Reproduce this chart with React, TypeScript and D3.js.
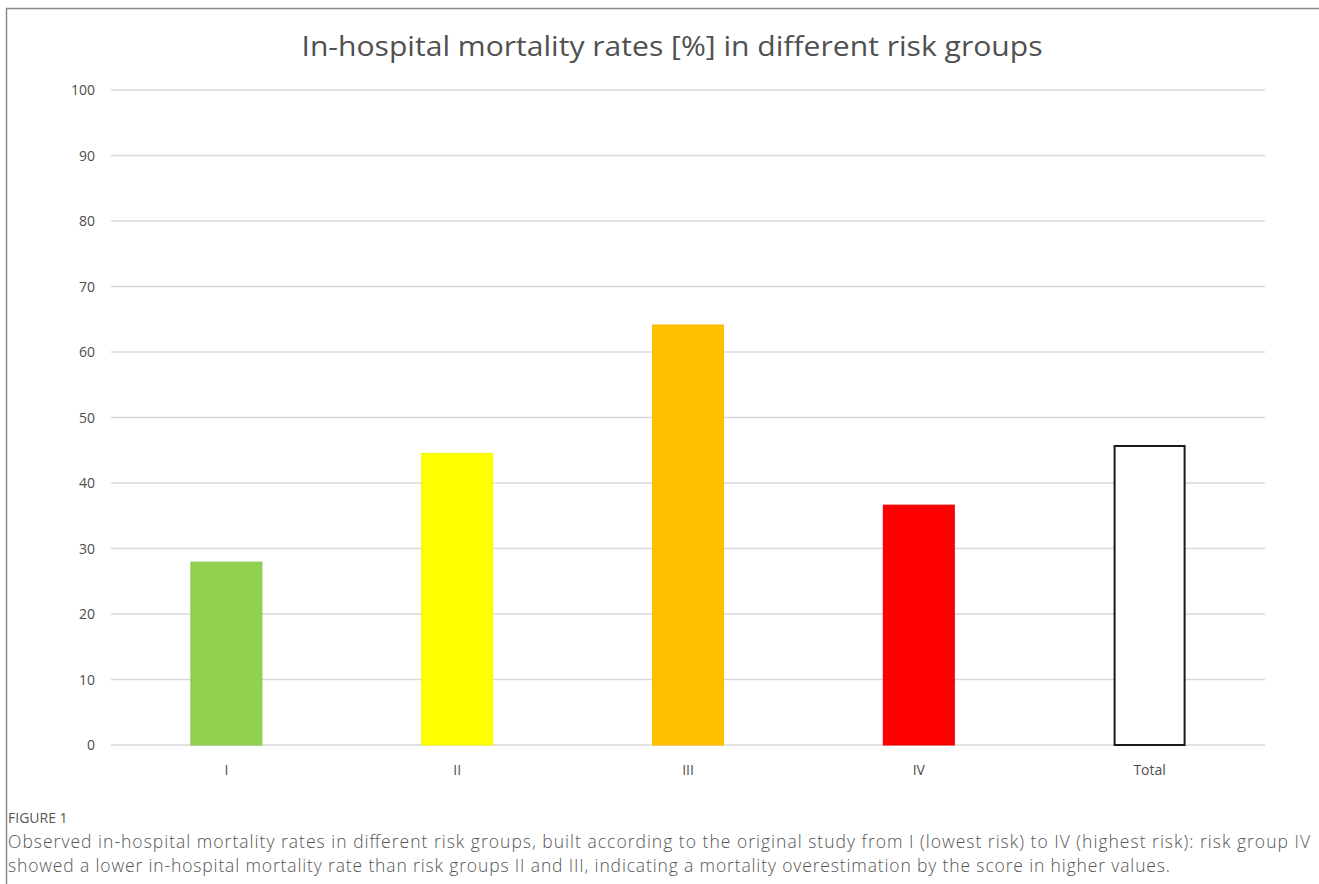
import React from "react";
import * as d3 from "d3";

// Risk groups and observed in-hospital mortality (%)
const categories = ["I", "II", "III", "IV", "Total"];
const mortality = [28, 44.6, 64.2, 36.7, 45.8];
const barFills = ["#92d050", "#ffff00", "#ffc000", "#ff0000", "#ffffff"];
const barStrokes = ["#8cc84c", "#f5f500", "#f7bb00", "#e00000", "#1a1a1a"];
const yTicks = [0, 10, 20, 30, 40, 50, 60, 70, 80, 90, 100];

const title = "In-hospital mortality rates [%] in different risk groups";
const figureLabel = "FIGURE 1";
const captionLines = [
  "Observed in-hospital mortality rates in different risk groups, built according to the original study from I (lowest risk) to IV (highest risk): risk group IV",
  "showed a lower in-hospital mortality rate than risk groups II and III, indicating a mortality overestimation by the score in higher values.",
];

const W = 1319;
const H = 884;
const plot = { left: 111, right: 1265, top: 90, bottom: 745 };
const font = "'Open Sans', 'Noto Sans', sans-serif";

export default function App() {
  const x = d3
    .scaleBand<string>()
    .domain(categories)
    .range([plot.left, plot.right])
    .paddingInner(0.688)
    .paddingOuter(0.344);
  const y = d3.scaleLinear().domain([0, 100]).range([plot.bottom, plot.top]);

  return (
    <svg
      width={W}
      height={H}
      style={{ position: "absolute", left: 0, top: 0, background: "#fff" }}
    >
      {/* frame */}
      <line x1={6} y1={8.5} x2={W} y2={8.5} stroke="#8a8a8a" strokeWidth={1.5} />
      <line x1={6.5} y1={8} x2={6.5} y2={H} stroke="#8a8a8a" strokeWidth={1.5} />

      <text
        x={672}
        y={56}
        textAnchor="middle"
        fontFamily={font}
        fontSize={27}
        fill="#505050"
        textLength={741}
        lengthAdjust="spacingAndGlyphs"
      >
        {title}
      </text>

      {/* gridlines and y labels */}
      {yTicks.map((t) => (
        <g key={t}>
          <line
            x1={plot.left}
            x2={plot.right}
            y1={y(t)}
            y2={y(t)}
            stroke="#d9d9d9"
            strokeWidth={1.5}
          />
          <text
            x={95}
            y={y(t) + 5}
            textAnchor="end"
            fontFamily={font}
            fontSize={14}
            fill="#4d4d4d"
          >
            {t}
          </text>
        </g>
      ))}

      {/* bars */}
      {categories.map((c, i) => {
        const isOutline = i === categories.length - 1;
        const sw = isOutline ? 2 : 1;
        return (
          <rect
            key={c}
            x={(x(c) as number) + sw / 2}
            y={y(mortality[i]) + sw / 2}
            width={x.bandwidth() - sw}
            height={y(0) - y(mortality[i]) - sw / 2}
            fill={barFills[i]}
            stroke={barStrokes[i]}
            strokeWidth={sw}
          />
        );
      })}

      {/* x labels */}
      {categories.map((c) => (
        <text
          key={c}
          x={(x(c) as number) + x.bandwidth() / 2}
          y={775}
          textAnchor="middle"
          fontFamily={font}
          fontSize={14}
          fill="#4d4d4d"
        >
          {c}
        </text>
      ))}

      {/* caption */}
      <text x={8} y={823} fontFamily={font} fontSize={14} fill="#555">
        {figureLabel}
      </text>
      <text
        x={8}
        y={848}
        fontFamily={font}
        fontSize={17.5}
        fontWeight={300}
        fill="#555"
        textLength={1302}
        lengthAdjust="spacing"
      >
        {captionLines[0]}
      </text>
      <text
        x={8}
        y={872}
        fontFamily={font}
        fontSize={17.5}
        fontWeight={300}
        fill="#555"
        textLength={1162}
        lengthAdjust="spacing"
      >
        {captionLines[1]}
      </text>
    </svg>
  );
}
